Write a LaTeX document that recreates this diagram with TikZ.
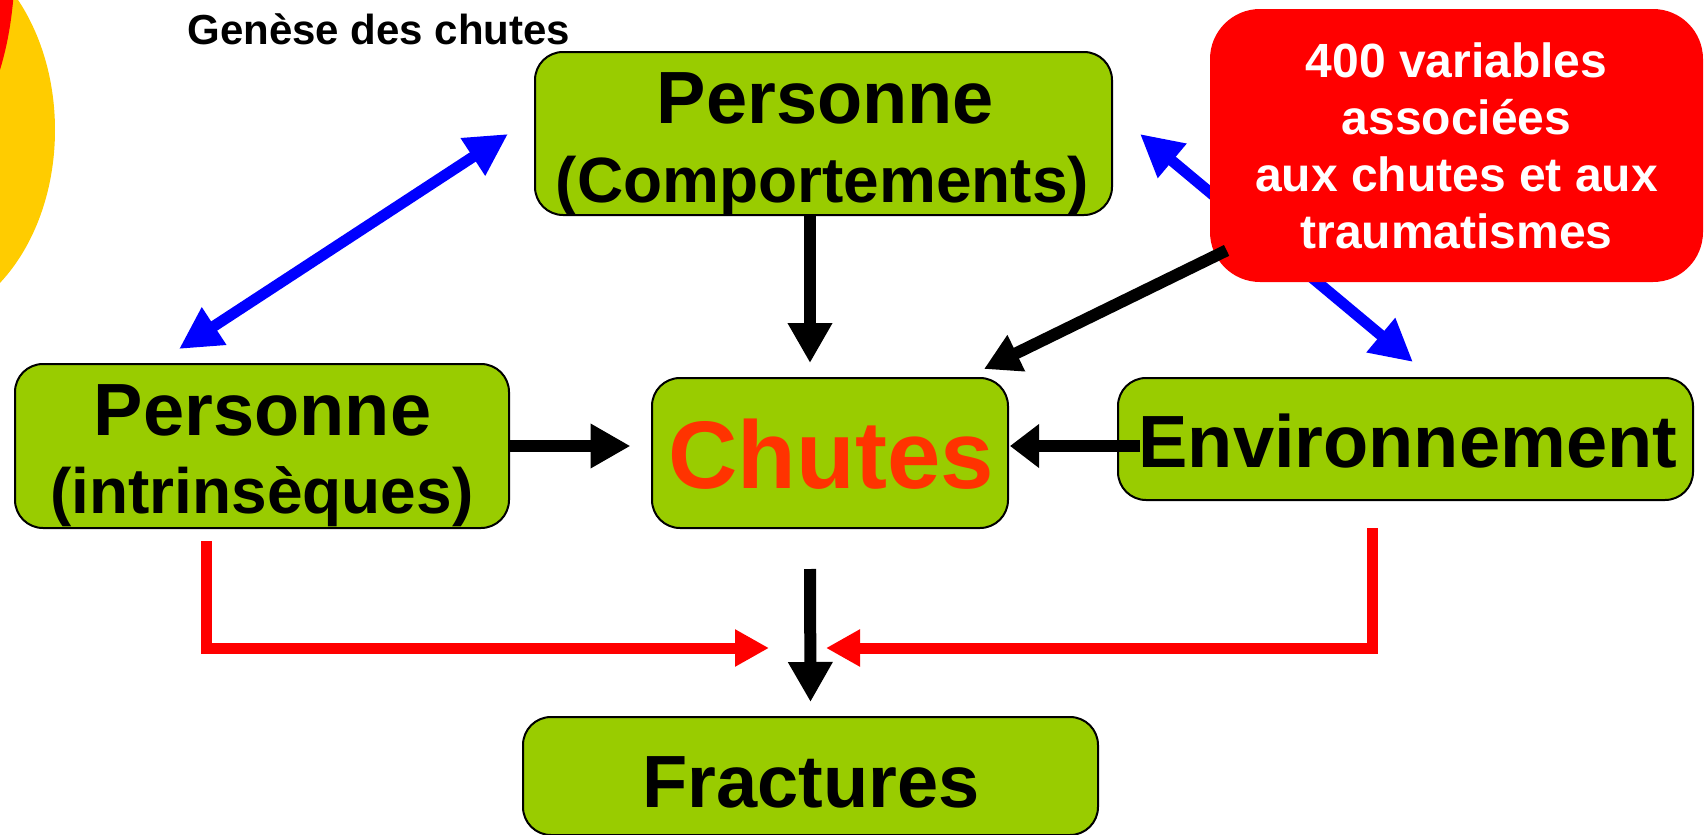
\documentclass[tikz,border=0pt]{standalone}
\usepackage{fontspec}
\setmainfont{Liberation Sans}
\usetikzlibrary{arrows.meta,calc}
\definecolor{boxgreen}{HTML}{99CC00}
\definecolor{fallred}{HTML}{FF3300}
\definecolor{sunyellow}{HTML}{FFCC00}
\definecolor{notered}{HTML}{FF0000}
\definecolor{linkblue}{HTML}{0000FF}
\begin{document}
\begin{tikzpicture}[x=0.5pt,y=-0.5pt,
  box/.style={draw=black, line width=1pt, fill=boxgreen, rounded corners=14pt, inner sep=0pt},
  notebox/.style={fill=notered, rounded corners=25pt, inner sep=0pt, text=white, align=center,
     font=\fontsize{24}{28.5}\selectfont\bfseries},
  lbl/.style={anchor=base, inner sep=0pt},
  big/.style={font=\fontsize{37}{40}\selectfont\bfseries},
  mid/.style={font=\fontsize{32}{36}\selectfont\bfseries},
  blkarrow/.style={draw=black, line width=6pt, -{Triangle[length=20pt,width=21pt]}},
  blkshort/.style={draw=black, line width=6pt, -{Triangle[length=14.5pt,width=21pt]}},
  notearrow/.style={draw=black, line width=6pt, -{Triangle[length=18pt,width=19pt]}},
  bluearrow/.style={draw=linkblue, line width=5.5pt, {Triangle[length=21pt,width=21pt]}-{Triangle[length=21pt,width=21pt]}},
  redarrow/.style={draw=notered, line width=5.5pt, line join=miter, -{Triangle[length=17pt,width=17.5pt]}}
]
\useasboundingbox (0,0) rectangle (1704,835);
\begin{scope}
  \clip (0,0) rectangle (1704,835);
  \fill[sunyellow] (-90,130) ellipse [x radius=72.5pt, y radius=97.5pt];
  \fill[notered] (-60,-40) ellipse [x radius=37.5pt, y radius=91.5pt];
\end{scope}

\node[anchor=base west, inner sep=0pt, font=\fontsize{21}{24}\selectfont\bfseries] (title) at (187,44) {Genèse des chutes};

% boxes
\node[box, minimum width=288.5pt, minimum height=81.5pt] (pc) at (823.5,133.5) {};
\node[box, minimum width=247pt, minimum height=82pt] (pi) at (262,446) {};
\node[box, minimum width=178pt, minimum height=75pt] (ch) at (830,453) {};
\node[box, minimum width=287.5pt, minimum height=61pt] (env) at (1405.5,439) {};
\node[box, minimum width=287.5pt, minimum height=59pt] (fr) at (810.5,776) {};

% texts
\node[lbl, big] (pc1) at (825.5,123) {Personne};
\node[lbl, mid] (pc2) at (822.5,202) {(Comportements)};
\node[lbl, big] (pi1) at (262.6,435) {Personne};
\node[lbl, mid] (pi2) at (261.8,513) {(intrinsèques)};
\node[lbl, font=\fontsize{48}{52}\selectfont\bfseries, text=fallred] (cht) at (831.3,488) {Chutes};
\node[lbl, big] (envt) at (1407.8,467) {Environnement};
\node[lbl, big] (frt) at (811,807) {Fractures};

% blue double arrows
\draw[bluearrow] ($(pi.north)+(-83,-14)$) -- ($(pc.west)+(-26,0.5)$);
\draw[bluearrow] ($(pc.east)+(27,0.5)$) -- ($(env.north)+(7.5,-15)$);

% red note box
\node[notebox, minimum width=246.5pt, minimum height=136.5pt] (rb) at (1456.5,145.5)
  {400 variables\\associées\\aux chutes et aux\\traumatismes};
\draw[notearrow] ($(rb.south west)+(17,-32)$) -- ($(ch.north east)+(-25,-8)$);

% black arrows
\draw[blkarrow] ($(pc.south)+(-13.5,0)$) -- ($(ch.north)+(-20,-14)$);
\draw[blkarrow] (pi.east |- 0,446) -- ($(ch.west)+(-20.5,-7)$);
\draw[blkshort] ($(env.west)+(23,7)$) -- ($(ch.east)+(1,-7)$);
\draw[blkarrow] ($(ch.south)+(-20,40)$) -- ($(fr.north)+(0,-14)$);

% red arrows
\draw[redarrow] ($(pi.south)+(-55.5,12)$) |- ($(fr.north)+(-41.5,-68)$);
\draw[redarrow] ($(env.south)+(-33.5,27)$) |- ($(fr.north)+(15.5,-68)$);
\end{tikzpicture}
\end{document}
